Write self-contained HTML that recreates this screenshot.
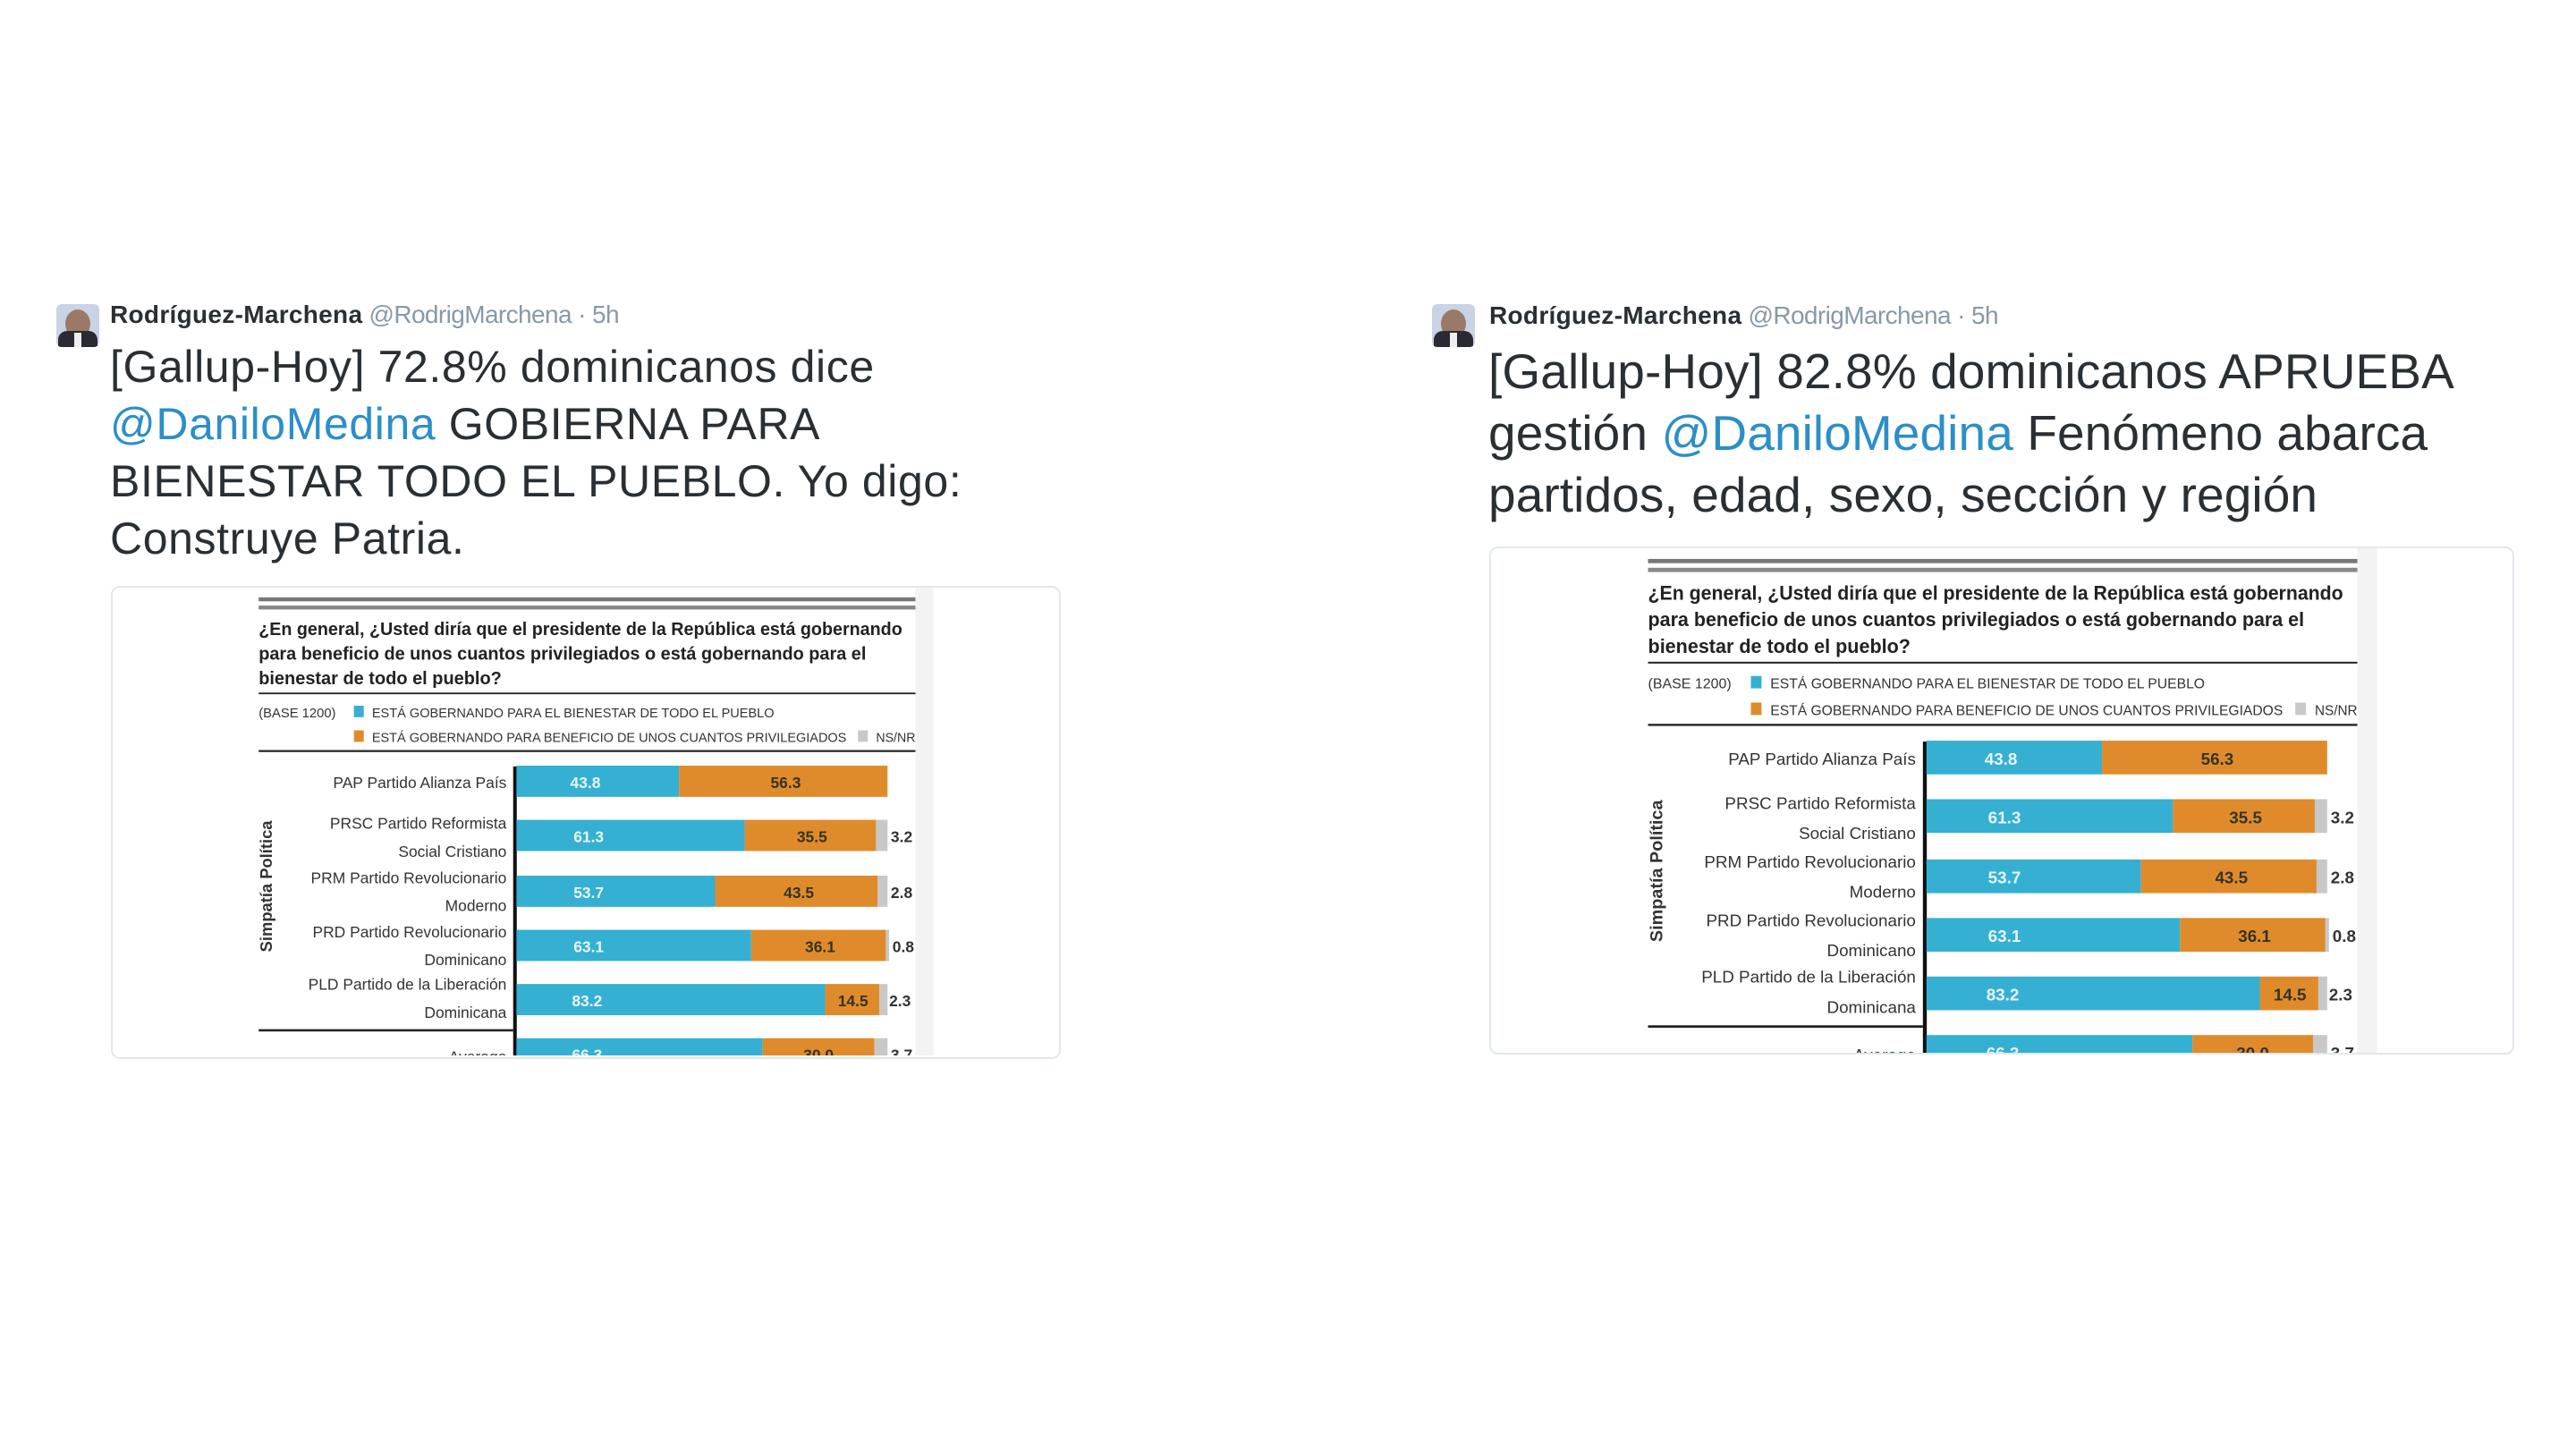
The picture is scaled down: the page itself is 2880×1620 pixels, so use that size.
<!DOCTYPE html>
<html><head><meta charset="utf-8"><style>
body{margin:0;width:2880px;height:1620px;background:#fff;position:relative;overflow:hidden;font-family:"Liberation Sans",sans-serif}
.av{position:absolute;width:48px;height:48px;border-radius:6px;overflow:hidden;background:#c9d3e6}
.hd{position:absolute;font-size:28px;color:#8899a6;white-space:nowrap;letter-spacing:-0.6px}
.hd b{color:#292f33;letter-spacing:0.3px}
.tx{position:absolute;color:#292f33;white-space:nowrap}
.tx a{color:#2b8fc8;text-decoration:none}
.card{position:absolute;border:2px solid #e1e8ed;border-radius:10px;background:#fff;overflow:hidden}
svg{position:absolute;top:0}
</style></head><body>

<svg width="0" height="0" style="position:absolute">
<defs>
<g id="chart" font-family="Liberation Sans, sans-serif">
<rect x="0" y="0" width="418" height="300" fill="#fff"/>
<rect x="407" y="0" width="11" height="300" fill="#f3f3f3"/>
<rect x="7" y="7" width="400" height="2.4" fill="#777"/>
<rect x="7" y="12" width="400" height="2.4" fill="#888"/>
<g font-weight="bold" font-size="11" fill="#222">
<text x="7" y="30" textLength="392" lengthAdjust="spacingAndGlyphs">¿En general, ¿Usted diría que el presidente de la República está gobernando</text>
<text x="7" y="45" textLength="370" lengthAdjust="spacingAndGlyphs">para beneficio de unos cuantos privilegiados o está gobernando para el</text>
<text x="7" y="60" textLength="148" lengthAdjust="spacingAndGlyphs">bienestar de todo el pueblo?</text>
</g>
<rect x="7" y="65" width="400" height="1" fill="#222"/>
<g font-size="8" fill="#333">
<text x="7" y="80" textLength="47" lengthAdjust="spacingAndGlyphs">(BASE 1200)</text>
<rect x="65" y="73" width="6" height="7" fill="#35b0d3"/>
<text x="76" y="80" textLength="245" lengthAdjust="spacingAndGlyphs">ESTÁ GOBERNANDO PARA EL BIENESTAR DE TODO EL PUEBLO</text>
<rect x="65" y="88" width="6" height="7" fill="#e08b2b"/>
<text x="76" y="95" textLength="289" lengthAdjust="spacingAndGlyphs">ESTÁ GOBERNANDO PARA BENEFICIO DE UNOS CUANTOS PRIVILEGIADOS</text>
<rect x="372" y="88" width="6" height="7" fill="#c8c8c8"/>
<text x="383" y="95" textLength="24" lengthAdjust="spacingAndGlyphs">NS/NR</text>
</g>
<rect x="7" y="100" width="400" height="1.2" fill="#222"/>
<rect x="162" y="110" width="2.2" height="200" fill="#111"/>
<rect x="7" y="270" width="155" height="1.4" fill="#222"/>
<text transform="translate(15,183) rotate(-90)" text-anchor="middle" font-size="10" font-weight="bold" fill="#333">Simpatía Política</text>
<g font-size="9.5" fill="#333" text-anchor="end">
<text x="158" y="123">PAP Partido Alianza País</text>
<text x="158" y="148">PRSC Partido Reformista</text><text x="158" y="165">Social Cristiano</text>
<text x="158" y="181">PRM Partido Revolucionario</text><text x="158" y="198">Moderno</text>
<text x="158" y="214">PRD Partido Revolucionario</text><text x="158" y="231">Dominicano</text>
<text x="158" y="246">PLD Partido de la Liberación</text><text x="158" y="263">Dominicana</text>
<text x="158" y="290">Average</text>
</g>
<g font-size="9.5" font-weight="bold">
<rect x="164" y="109.5" width="99" height="19" fill="#35b0d3"/><rect x="263" y="109.5" width="127" height="19" fill="#e08b2b"/>
<text x="206" y="123" text-anchor="middle" fill="#e8f6fb">43.8</text><text x="328" y="123" text-anchor="middle" fill="#332">56.3</text>

<rect x="164" y="142.5" width="139" height="19" fill="#35b0d3"/><rect x="303" y="142.5" width="80" height="19" fill="#e08b2b"/><rect x="383" y="142.5" width="7" height="19" fill="#c8c8c8"/>
<text x="208" y="156" text-anchor="middle" fill="#e8f6fb">61.3</text><text x="344" y="156" text-anchor="middle" fill="#332">35.5</text><text x="392" y="156" fill="#333">3.2</text>

<rect x="164" y="176.5" width="121" height="19" fill="#35b0d3"/><rect x="285" y="176.5" width="99" height="19" fill="#e08b2b"/><rect x="384" y="176.5" width="6" height="19" fill="#c8c8c8"/>
<text x="208" y="190" text-anchor="middle" fill="#e8f6fb">53.7</text><text x="336" y="190" text-anchor="middle" fill="#332">43.5</text><text x="392" y="190" fill="#333">2.8</text>

<rect x="164" y="209.5" width="143" height="19" fill="#35b0d3"/><rect x="307" y="209.5" width="82" height="19" fill="#e08b2b"/><rect x="389" y="209.5" width="2" height="19" fill="#c8c8c8"/>
<text x="208" y="223" text-anchor="middle" fill="#e8f6fb">63.1</text><text x="349" y="223" text-anchor="middle" fill="#332">36.1</text><text x="393" y="223" fill="#333">0.8</text>

<rect x="164" y="242.5" width="188" height="19" fill="#35b0d3"/><rect x="352" y="242.5" width="33" height="19" fill="#e08b2b"/><rect x="385" y="242.5" width="5" height="19" fill="#c8c8c8"/>
<text x="207" y="256" text-anchor="middle" fill="#e8f6fb">83.2</text><text x="369" y="256" text-anchor="middle" fill="#332">14.5</text><text x="391" y="256" fill="#333">2.3</text>

<rect x="164" y="275.5" width="150" height="19" fill="#35b0d3"/><rect x="314" y="275.5" width="68" height="19" fill="#e08b2b"/><rect x="382" y="275.5" width="8" height="19" fill="#c8c8c8"/>
<text x="207" y="289" text-anchor="middle" fill="#e8f6fb">66.3</text><text x="348" y="289" text-anchor="middle" fill="#332">30.0</text><text x="392" y="289" fill="#333">3.7</text>
</g>
</g>
</defs>
</svg>

<!-- LEFT TWEET -->
<div class="av" style="left:63px;top:340px"><div style="position:absolute;left:10px;top:6px;width:28px;height:32px;border-radius:50%;background:#9a7a66"></div><div style="position:absolute;left:2px;top:30px;width:44px;height:20px;border-radius:10px 10px 0 0;background:#2a2a33"></div><div style="position:absolute;left:20px;top:32px;width:8px;height:16px;background:#eee"></div></div>
<div class="hd" style="left:123px;top:336px"><b>Rodríguez-Marchena</b> @RodrigMarchena · 5h</div>
<div class="tx" style="left:123px;top:378px;font-size:50px;line-height:64px;letter-spacing:0.6px">[Gallup-Hoy] 72.8% dominicanos dice<br><a>@DaniloMedina</a> GOBIERNA PARA<br>BIENESTAR TODO EL PUEBLO. Yo digo:<br>Construye Patria.</div>
<div class="card" style="left:124px;top:655px;width:1058px;height:525px">
<svg style="left:150px;top:-2px" width="768" height="525" viewBox="0 0 418 286"><use href="#chart"/></svg>
</div>

<!-- RIGHT TWEET -->
<div class="av" style="left:1601px;top:340px"><div style="position:absolute;left:10px;top:6px;width:28px;height:32px;border-radius:50%;background:#9a7a66"></div><div style="position:absolute;left:2px;top:30px;width:44px;height:20px;border-radius:10px 10px 0 0;background:#2a2a33"></div><div style="position:absolute;left:20px;top:32px;width:8px;height:16px;background:#eee"></div></div>
<div class="hd" style="left:1665px;top:337px"><b>Rodríguez-Marchena</b> @RodrigMarchena · 5h</div>
<div class="tx" style="left:1664px;top:381px;font-size:55px;line-height:69px;letter-spacing:0.1px">[Gallup-Hoy] 82.8% dominicanos APRUEBA<br>gestión <a>@DaniloMedina</a> Fenómeno abarca<br>partidos, edad, sexo, sección y región</div>
<div class="card" style="left:1665px;top:611px;width:1142px;height:564px">
<svg style="left:161px;top:-2px" width="830" height="567" viewBox="0 0 418 286"><use href="#chart"/></svg>
</div>

</body></html>
